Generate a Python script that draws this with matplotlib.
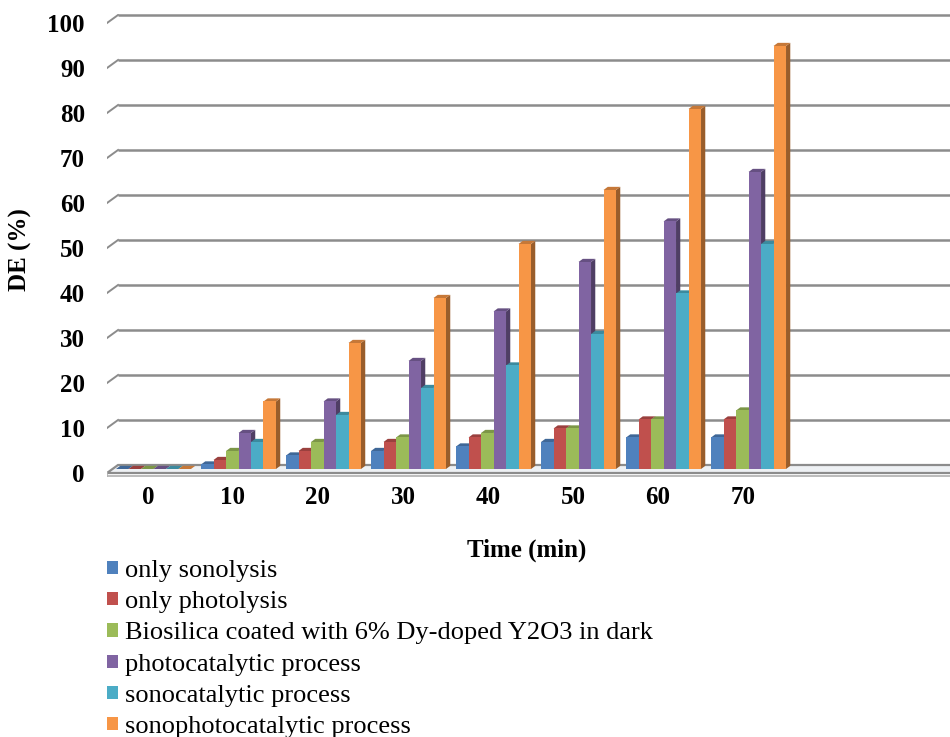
"""
DE (%) against time for the six processes,
drawn like an Excel 3D clustered column chart.
"""

import numpy as np
import matplotlib
matplotlib.use("Agg")
import matplotlib.pyplot as plt
from matplotlib.patches import Polygon, Rectangle
from matplotlib.colors import to_rgb

times = ["0", "10", "20", "30", "40", "50", "60", "70"]
series_names = [
    "only sonolysis",
    "only photolysis",
    "Biosilica coated with 6% Dy-doped Y2O3 in dark",
    "photocatalytic process",
    "sonocatalytic process",
    "sonophotocatalytic process",
]
only_sonolysis = [0, 1, 3, 4, 5, 6, 7, 7]
only_photolysis = [0, 2, 4, 6, 7, 9, 11, 11]
biosilica_dark = [0, 4, 6, 7, 8, 9, 11, 13]
photocatalytic = [0, 8, 15, 24, 35, 46, 55, 66]
sonocatalytic = [0, 6, 12, 18, 23, 30, 39, 50]
sonophotocatalytic = [0, 15, 28, 38, 50, 62, 80, 94]
y_ticks = [0, 10, 20, 30, 40, 50, 60, 70, 80, 90, 100]

colors = ["#4F81BD", "#C0504D", "#9BBB59", "#8064A2", "#4BACC6", "#F79646"]

# wall depth (data units) and bar geometry
WALL_DX, WALL_DY = 0.13, 1.78
BAR_W = 0.147
BAR_DX, BAR_DY = 0.05, 0.7
X_MIN, X_MAX = -0.482, 9.435
GRID_COLOR = "#8c8c8c"


def shade(color, factor):
    r, g, b = to_rgb(color)
    return (r * factor, g * factor, b * factor)


def draw_walls(ax):
    """
    gridlines on the back wall with the
    little slanted stubs and the floor plate.
    """
    for v in y_ticks[1:]:
        ax.plot([X_MIN + WALL_DX, X_MAX], [v + WALL_DY, v + WALL_DY],
                color=GRID_COLOR, lw=1.8, zorder=1, solid_capstyle="butt")
        ax.plot([X_MIN, X_MIN + WALL_DX], [v, v + WALL_DY],
                color=GRID_COLOR, lw=1.4, zorder=1)
    floor = Polygon([(X_MIN, 0), (X_MAX + 1, 0), (X_MAX + 1, WALL_DY),
                     (X_MIN + WALL_DX, WALL_DY)],
                    closed=True, facecolor="#eef1f4", edgecolor=GRID_COLOR,
                    lw=1.6, zorder=1)
    ax.add_patch(floor)
    ax.plot([X_MIN, X_MAX + 1], [-0.6, -0.6], color="#b0b0b0", lw=1.2, zorder=1)
    ax.plot([X_MIN, X_MIN], [-0.6, 0], color="#b0b0b0", lw=1.2, zorder=1)


def draw_bars(ax, all_values):
    """
    front face, right side and top face
    for every bar, left to right.
    """
    base_x = WALL_DX / 2
    base_y = WALL_DY / 2
    n = len(all_values)
    for i in range(len(times)):
        for k in range(n):
            h = all_values[k][i]
            left = i + (k - n / 2) * BAR_W + base_x
            right = left + BAR_W
            y0 = base_y
            y1 = base_y + h
            c = colors[k]
            side = Polygon([(right, y0), (right + BAR_DX, y0 + BAR_DY),
                            (right + BAR_DX, y1 + BAR_DY), (right, y1)],
                           closed=True, facecolor=shade(c, 0.62), lw=0, zorder=3)
            top = Polygon([(left, y1), (right, y1), (right + BAR_DX, y1 + BAR_DY),
                           (left + BAR_DX, y1 + BAR_DY)],
                          closed=True, facecolor=shade(c, 0.8), lw=0, zorder=3)
            front = Rectangle((left, y0), BAR_W, h, facecolor=c, lw=0, zorder=3)
            ax.add_patch(side)
            ax.add_patch(top)
            ax.add_patch(front)


def plot_chart():
    plt.rcParams["font.family"] = ["Liberation Serif", "DejaVu Serif"]
    fig = plt.figure(figsize=(9.5, 7.37), dpi=100)

    px_unit = 4.5
    bottom_px = 473 + px_unit * 1.0
    top_px = 473 - px_unit * 102
    ax = fig.add_axes([107 / 950, (737 - bottom_px) / 737,
                       (950 - 107) / 950, (bottom_px - top_px) / 737])
    ax.set_xlim(X_MIN, X_MAX)
    ax.set_ylim(-1, 102)

    all_values = [only_sonolysis, only_photolysis, biosilica_dark,
                  photocatalytic, sonocatalytic, sonophotocatalytic]
    draw_walls(ax)
    draw_bars(ax, all_values)

    for s in ax.spines.values():
        s.set_visible(False)
    ax.set_yticks(y_ticks)
    ax.set_yticklabels([str(v) for v in y_ticks], fontsize=18, fontweight="bold")
    ax.set_xticks(np.arange(len(times)))
    ax.set_xticklabels(times, fontsize=18, fontweight="bold")
    ax.tick_params(axis="y", length=0, pad=16)
    ax.tick_params(axis="x", length=0, pad=6)

    fig.text(20 / 950, 1 - 250 / 737, "DE (%)", rotation=90, fontsize=18,
             fontweight="bold", ha="center", va="center")
    fig.text(527 / 950, 1 - 550 / 737, "Time (min)", fontsize=18,
             fontweight="bold", ha="center", va="center")

    handles = [Rectangle((0, 0), 1, 1, facecolor=c, lw=0) for c in colors]
    fig.legend(handles, series_names, loc="upper left",
               bbox_to_anchor=(107 / 950, 1 - 560 / 737), frameon=False,
               fontsize=19, handlelength=0.4, handleheight=0.4,
               handletextpad=0.3, labelspacing=0.35, borderpad=0,
               borderaxespad=0)

    fig.savefig("out.png", dpi=100)


if __name__ == "__main__":
    plot_chart()
